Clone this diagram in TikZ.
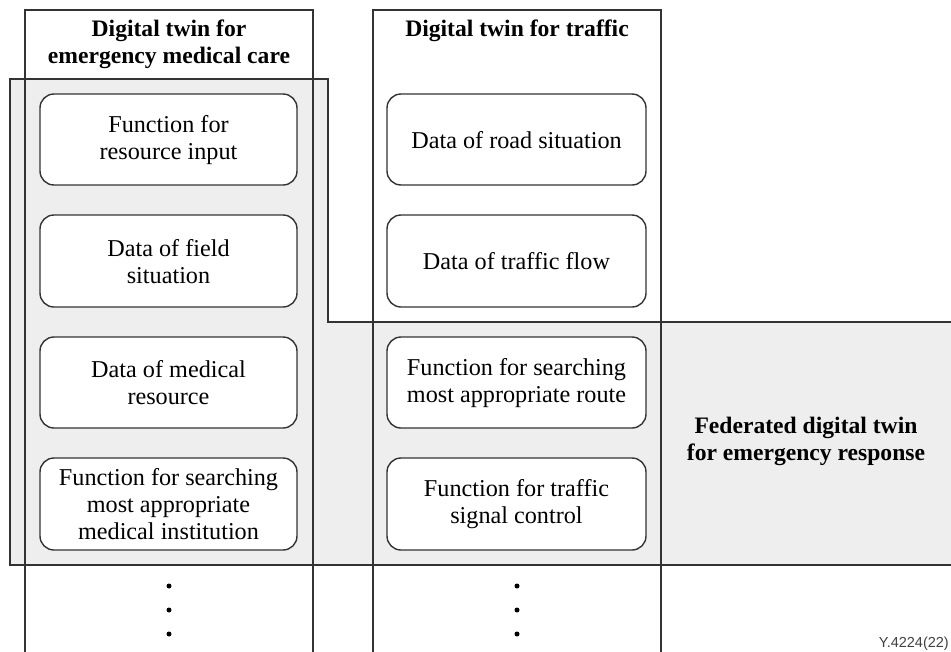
\documentclass[tikz,border=0pt]{standalone}
\usepackage{fontspec}
\setmainfont{Liberation Serif}
\newfontfamily\labelfont{Liberation Sans}
\definecolor{fedgray}{HTML}{EEEEEE}
\definecolor{linegray}{HTML}{333333}
\begin{document}
\begin{tikzpicture}[x=1pt,y=-1pt,
  every node/.style={font=\fontsize{24.2}{27}\selectfont},
  item/.style={draw=linegray, line width=1.4pt, fill=white, rounded corners=14pt},
  title/.style={font=\fontsize{23.6}{27}\selectfont\bfseries, align=center},
  frame/.style={draw=linegray, line width=1.4pt},
  dot/.style={circle, fill=black, inner sep=0pt, minimum size=5pt}]
\clip (0,0) rectangle (951,651);

% federated region (shaded, L-shaped)
\path[frame, fill=fedgray] (10,79) -- (328,79) -- (328,322) -- (980,322)
  -- (980,565) -- (10,565) -- cycle;

% digital twin columns (open at the bottom)
\draw[frame] (25,700) -- (25,10) -- (313,10) -- (313,700);
\draw[frame] (373,700) -- (373,10) -- (661,10) -- (661,700);

% column titles
\node[title] (tmed) at (169,44.5) {Digital twin for\\emergency medical care};
\node[title] (ttra) at (517,31) {Digital twin for traffic};

% emergency medical care components
\path[item] (40,94) rectangle (297,185);
\node (m1) at (168.5,140) [align=center] {Function for\\resource input};
\path[item] (40,215) rectangle (297,307);
\node (m2) at (168.5,261.5) [align=center] {Data of field\\situation};
\path[item] (40,337) rectangle (297,428);
\node (m3) at (168.5,383) [align=center] {Data of medical\\resource};
\path[item] (40,458) rectangle (297,550);
\node (m4) at (168.5,504.5) [align=center] {Function for searching\\most appropriate\\medical institution};

% traffic components
\path[item] (387,94) rectangle (646,185);
\node (t1) at (516.5,140) {Data of road situation};
\path[item] (387,215) rectangle (646,307);
\node (t2) at (516.5,261.5) {Data of traffic flow};
\path[item] (387,337) rectangle (646,428);
\node (t3) at (516.5,383) [align=center] {Function for searching\\most appropriate route};
\path[item] (387,458) rectangle (646,550);
\node (t4) at (516.5,504.5) [align=center] {Function for traffic\\signal control};

% federated label
\node[title] (fed) at (806,441) {Federated digital twin\\for emergency response};

% continuation dots
\node[dot] (d1) at (169,586) {};
\node[dot] (d2) at (169,610) {};
\node[dot] (d3) at (169,634) {};
\node[dot] (d4) at (517,586) {};
\node[dot] (d5) at (517,610) {};
\node[dot] (d6) at (517,634) {};

% figure reference
\node[anchor=base east, font=\labelfont\fontsize{14.5}{16}\selectfont, text=black!75, inner sep=0pt]
  (ref) at (949,647) {Y.4224(22)};
\end{tikzpicture}
\end{document}
